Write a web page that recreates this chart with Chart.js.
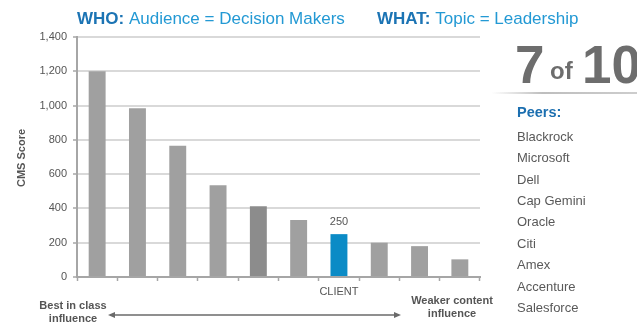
<!DOCTYPE html>
<html>
<head>
<meta charset="utf-8">
<script src="https://cdn.jsdelivr.net/npm/chart.js@4/dist/chart.umd.min.js"></script>
<style>
  html, body { margin: 0; padding: 0; background: #fff; }
  #wrap { position: relative; width: 637px; height: 324px; }
</style>
</head>
<body>
<div id="wrap"><canvas id="c" width="637" height="324"></canvas></div>
<script>
// Ranked CMS scores, best to weakest
const categories = ['', '', '', '', '', '', 'CLIENT', '', '', ''];
const scores = [1200, 985, 765, 535, 412, 332, 250, 200, 180, 103];
const barColors = ['#a0a0a0', '#a0a0a0', '#a0a0a0', '#a0a0a0', '#8c8c8c', '#a0a0a0', '#0b8bc6', '#a0a0a0', '#a0a0a0', '#a0a0a0'];
const peers = ['Blackrock', 'Microsoft', 'Dell', 'Cap Gemini', 'Oracle', 'Citi', 'Amex', 'Accenture', 'Salesforce'];
const clientIndex = 6;
const rank = '7';
const total = '10';

const FONT = '"Liberation Sans", Arial, Helvetica, sans-serif';

// Extra annotations: header, rank panel, peers list, influence arrow, value label
const decor = {
  id: 'decor',
  afterDraw(chart) {
    const ctx = chart.ctx;
    ctx.save();
    ctx.textBaseline = 'middle';
    ctx.textAlign = 'left';

    // Header
    const hy = 19;
    const header = (x, parts) => {
      parts.forEach(([f, c, t]) => { ctx.font = f; ctx.fillStyle = c; ctx.fillText(t, x, hy); x += ctx.measureText(t).width; });
    };
    header(77, [
      ['bold 17px ' + FONT, '#1c74b4', 'WHO: '],
      ['17px ' + FONT, '#2399d4', 'Audience = Decision Makers'],
    ]);
    header(377, [
      ['bold 17px ' + FONT, '#1c74b4', 'WHAT: '],
      ['17px ' + FONT, '#2399d4', 'Topic = Leadership'],
    ]);

    // Rank "7 of 10"
    ctx.textBaseline = 'alphabetic';
    ctx.fillStyle = '#6d6d6d';
    ctx.font = 'bold 53px ' + FONT;
    ctx.fillText(rank, 515, 83);
    ctx.font = 'bold 24px ' + FONT;
    ctx.fillText('of', 550, 79);
    ctx.font = 'bold 53px ' + FONT;
    ctx.fillText(total, 582, 83);

    // Soft divider under the rank
    const g = ctx.createLinearGradient(492, 0, 637, 0);
    g.addColorStop(0, 'rgba(190,190,190,0)');
    g.addColorStop(0.35, 'rgba(190,190,190,1)');
    g.addColorStop(1, 'rgba(205,205,205,1)');
    ctx.fillStyle = g;
    ctx.fillRect(492, 92, 145, 2);

    // Peers
    ctx.textBaseline = 'middle';
    ctx.font = 'bold 14.5px ' + FONT;
    ctx.fillStyle = '#1c6fb0';
    ctx.fillText('Peers:', 517, 113);
    ctx.font = '13px ' + FONT;
    ctx.fillStyle = '#595959';
    peers.forEach((p, i) => ctx.fillText(p, 517, 137.5 + i * 21.35));

    // Y axis title
    ctx.save();
    ctx.translate(22, 158);
    ctx.rotate(-Math.PI / 2);
    ctx.textAlign = 'center';
    ctx.font = 'bold 11px ' + FONT;
    ctx.fillStyle = '#555';
    ctx.fillText('CMS Score', 0, 0);
    ctx.restore();

    // Value label on the client bar
    const bar = chart.getDatasetMeta(0).data[clientIndex];
    ctx.textAlign = 'center';
    ctx.font = '11px ' + FONT;
    ctx.fillStyle = '#555';
    ctx.fillText(String(scores[clientIndex]), bar.x, bar.y - 12);

    // Influence axis
    ctx.font = 'bold 11px ' + FONT;
    ctx.fillStyle = '#555';
    ctx.fillText('Best in class', 73, 306);
    ctx.fillText('influence', 73, 319);
    ctx.fillText('Weaker content', 452, 301);
    ctx.fillText('influence', 452, 314);

    const ay = 315, ax1 = 108, ax2 = 401;
    ctx.strokeStyle = '#6a6a6a';
    ctx.fillStyle = '#6a6a6a';
    ctx.lineWidth = 1.5;
    ctx.beginPath(); ctx.moveTo(ax1 + 4, ay); ctx.lineTo(ax2 - 4, ay); ctx.stroke();
    ctx.beginPath(); ctx.moveTo(ax1, ay); ctx.lineTo(ax1 + 7, ay - 3); ctx.lineTo(ax1 + 7, ay + 3); ctx.closePath(); ctx.fill();
    ctx.beginPath(); ctx.moveTo(ax2, ay); ctx.lineTo(ax2 - 7, ay - 3); ctx.lineTo(ax2 - 7, ay + 3); ctx.closePath(); ctx.fill();

    ctx.restore();
  }
};

new Chart(document.getElementById('c'), {
  type: 'bar',
  data: {
    labels: categories,
    datasets: [{
      data: scores,
      backgroundColor: barColors,
      barPercentage: 0.42,
      categoryPercentage: 1.0
    }]
  },
  options: {
    responsive: false,
    animation: false,
    layout: { padding: { left: 0, top: 37, right: 157, bottom: 0 } },
    plugins: { legend: { display: false }, tooltip: { enabled: false } },
    scales: {
      x: {
        afterFit(s) { s.height = 47; },
        grid: { display: true, offset: true, drawOnChartArea: false, tickLength: 4, tickColor: '#a6a6a6', tickWidth: 1.5 },
        border: { display: true, color: '#a6a6a6', width: 2 },
        ticks: { color: '#555', font: { family: FONT, size: 11 }, padding: 4, autoSkip: false, maxRotation: 0 }
      },
      y: {
        min: 0, max: 1400,
        afterFit(s) { s.width = 77; },
        grid: { color: '#d9d9d9', lineWidth: 2, tickLength: 4, tickColor: '#a6a6a6', tickWidth: 1.5 },
        border: { display: true, color: '#a6a6a6', width: 2 },
        ticks: {
          stepSize: 200, color: '#555', padding: 6,
          font: { family: FONT, size: 11 },
          callback: v => v.toLocaleString('en-US')
        }
      }
    }
  },
  plugins: [decor]
});
</script>
</body>
</html>
